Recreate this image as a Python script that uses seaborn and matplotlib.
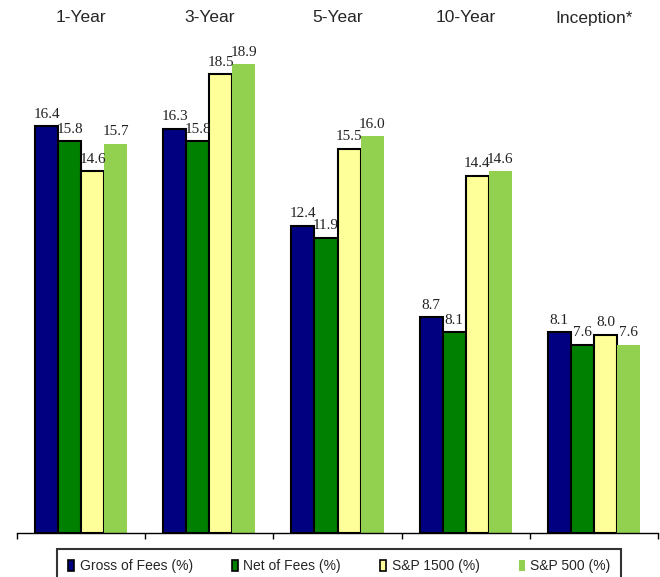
import matplotlib.pyplot as plt
import pandas as pd
import seaborn as sns

periods = ['1-Year', '3-Year', '5-Year', '10-Year', 'Inception*']
series = ['Gross of Fees (%)', 'Net of Fees (%)', 'S&P 1500 (%)', 'S&P 500 (%)']
gross = [16.4, 16.3, 12.4, 8.7, 8.1]
net = [15.8, 15.8, 11.9, 8.1, 7.6]
sp1500 = [14.6, 18.5, 15.5, 14.4, 8.0]
sp500 = [15.7, 18.9, 16.0, 14.6, 7.6]

colors = ['#000080', '#008000', '#FFFF99', '#92D050']
edges = ['black', 'black', 'black', 'none']

rows = []
for name, vals in zip(series, [gross, net, sp1500, sp500]):
    for p, v in zip(periods, vals):
        rows.append({'period': p, 'series': name, 'value': v})
df = pd.DataFrame(rows)

sns.set_style('white')
fig = plt.figure(figsize=(6.6, 5.77), dpi=100)
ax = fig.add_axes([17 / 660, 44 / 577, 641 / 660, 533 / 577])

sns.barplot(data=df, x='period', y='value', hue='series', order=periods,
            hue_order=series, palette=colors, width=0.72, saturation=1,
            legend=False, ax=ax)

for cont, ec in zip(ax.containers, edges):
    for bar in cont:
        bar.set_edgecolor(ec)
        bar.set_linewidth(1.5 if ec != 'none' else 0)
    ax.bar_label(cont, fmt='%.1f', padding=4, fontsize=11,
                 fontfamily='Liberation Serif', color='#222222')

ax.set_ylim(0, 21.5)
ax.set_xlim(-0.5, len(periods) - 0.5)
ax.set_xticks([i - 0.5 for i in range(len(periods) + 1)])
ax.set_xticklabels([])
ax.tick_params(axis='x', direction='out', length=4, width=1, color='black', bottom=True)
ax.set_yticks([])
ax.set_xlabel('')
ax.set_ylabel('')
for s in ['top', 'left', 'right']:
    ax.spines[s].set_visible(False)
ax.spines['bottom'].set_color('black')
ax.spines['bottom'].set_linewidth(1)

for i, p in enumerate(periods):
    ax.text(i, 1 - 18 / 533, p, transform=ax.get_xaxis_transform(),
            ha='center', va='center', fontsize=12.5, fontfamily='Liberation Sans')

handles = [plt.Rectangle((0, 0), 1, 1, facecolor=c, edgecolor=ec,
                         linewidth=1.2 if ec != 'none' else 0)
           for c, ec in zip(colors, edges)]
leg = fig.legend(handles, series, loc='upper center', bbox_to_anchor=(0.514, 1 - 549 / 577),
                 ncol=4, frameon=True, fancybox=False, handlelength=0.45, handleheight=0.9,
                 handletextpad=0.4, columnspacing=2.8, borderpad=0.75, borderaxespad=0,
                 prop={'family': 'Liberation Sans', 'size': 10})
leg.get_frame().set_edgecolor('black')
leg.get_frame().set_linewidth(1.5)

fig.savefig('out.png', dpi=100)
